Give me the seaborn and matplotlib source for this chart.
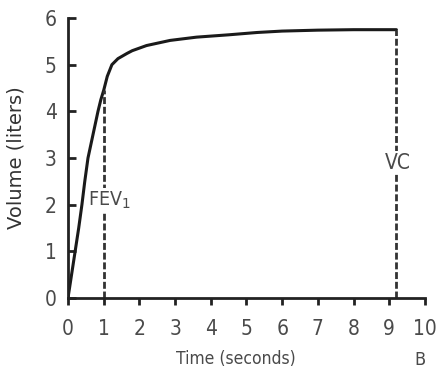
import matplotlib
matplotlib.use("Agg")
from matplotlib import pyplot as plt
import pandas as pd
import seaborn as sns

# spirometry curve
time_s = [0, 0.1, 0.2, 0.3, 0.39, 0.47, 0.56, 0.7, 0.84, 0.92, 1.0, 1.1, 1.23, 1.4, 1.65, 1.8, 2.2,
          2.86, 3.6, 4.5, 5.3, 6.0, 7.0, 8.0, 9.0, 9.2]
volume_l = [0, 0.5, 1.0, 1.5, 2.0, 2.5, 3.0, 3.5, 4.0, 4.25, 4.45, 4.75, 5.0, 5.13, 5.24, 5.3, 5.41,
            5.52, 5.59, 5.64, 5.69, 5.72, 5.74, 5.75, 5.75, 5.75]

fev1_t, fev1_v = 1.0, 4.45
vc_t, vc_v = 9.2, 5.75

x_ticks = list(range(0, 11))
y_ticks = list(range(0, 7))

df = pd.DataFrame({"t": time_s, "v": volume_l})

sns.set_style("ticks")
narrow = dict(family=["DejaVu Sans"], stretch="condensed")
grey = "#4a4a4a"

fig = plt.figure(figsize=(4.37, 3.73), dpi=100)
ax = fig.add_axes([0.1556, 0.2011, 0.8169, 0.7506])

sns.lineplot(data=df, x="t", y="v", ax=ax, color="#1a1a1a", lw=2.2)

# dashed markers down to the time axis
ax.plot([fev1_t, fev1_t], [0, fev1_v], color="#333333", lw=2, ls=(0, (2.5, 1)))
ax.plot([vc_t, vc_t], [0, vc_v], color="#333333", lw=2, ls=(0, (2.5, 1)))

ax.text(fev1_t + 0.15, 2.1, "FEV$_1$", fontsize=14, color=grey,
        ha="center", va="center", bbox=dict(fc="white", ec="none", pad=1), **narrow)
ax.text(vc_t + 0.05, 2.9, "VC", fontsize=15, color=grey,
        ha="center", va="center", bbox=dict(fc="white", ec="none", pad=1), **narrow)

ax.set_xlim(0, 10)
ax.set_ylim(0, 6)
ax.set_xticks(x_ticks)
ax.set_yticks(y_ticks)
for lab in ax.get_xticklabels() + ax.get_yticklabels():
    lab.set_family(narrow["family"])
    lab.set_stretch("condensed")
    lab.set_fontsize(15)
    lab.set_color(grey)
ax.tick_params(axis="x", direction="out", length=5, width=2, pad=10, color="#222222")
ax.tick_params(axis="y", direction="in", length=6, width=2, pad=8, color="#222222")

ax.set_xlabel("Time (seconds)", fontsize=12.5, color=grey, **narrow)
ax.xaxis.set_label_coords(0.47, -0.185)
ax.set_ylabel("Volume (liters)", fontsize=14, color="#333333")
ax.yaxis.set_label_coords(-0.118, 0.5)

sns.despine(ax=ax)
for s in ["left", "bottom"]:
    ax.spines[s].set_linewidth(2)
    ax.spines[s].set_color("#222222")

fig.text(0.962, 0.035, "B", fontsize=13, color=grey, ha="center", va="center", **narrow)

fig.savefig("out.png", dpi=100)
